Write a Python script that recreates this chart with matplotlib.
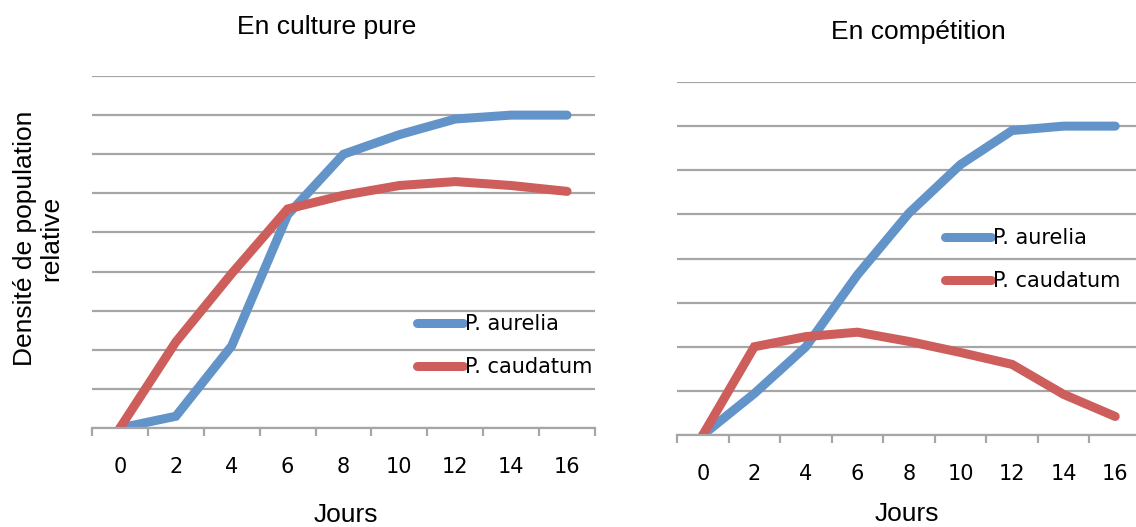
import matplotlib.pyplot as plt
from matplotlib.ticker import MultipleLocator

# jours (axe des abscisses, catégories)
jours = [0, 2, 4, 6, 8, 10, 12, 14, 16]

# densité relative, en culture pure
pure_aurelia = [0, 0.3, 2.1, 5.45, 7.0, 7.5, 7.9, 8.0, 8.0]
pure_caudatum = [0, 2.2, 3.95, 5.6, 5.95, 6.2, 6.3, 6.2, 6.05]

# densité relative, en compétition
comp_aurelia = [0, 0.94, 2.0, 3.63, 5.03, 6.13, 6.9, 7.0, 7.0]
comp_caudatum = [0, 2.0, 2.23, 2.33, 2.12, 1.87, 1.6, 0.92, 0.42]

BLUE = '#6394C9'
RED = '#CD5E5C'
GRID = '#A6A6A6'
W, H = 1136, 527


def _style_axes(ax, ymax):
    ax.set_xlim(-1, 17)
    ax.set_ylim(0, ymax)
    for side in ('top', 'right', 'left'):
        ax.spines[side].set_visible(False)
    ax.spines['bottom'].set_color(GRID)
    ax.spines['bottom'].set_linewidth(1.6)
    ax.set_xticks(jours)
    ax.xaxis.set_minor_locator(MultipleLocator(2, offset=1))
    ax.tick_params(axis='x', which='major', length=0, pad=21, labelsize=15)
    ax.tick_params(axis='x', which='minor', length=6, width=1.6, color=GRID)
    ax.yaxis.set_major_locator(MultipleLocator(1))
    ax.tick_params(axis='y', length=0, labelleft=False)
    ax.grid(axis='y', color=GRID, linewidth=1.6)
    ax.set_axisbelow(True)


def _plot_panel(ax, aurelia, caudatum, ymax, legend_xy):
    _style_axes(ax, ymax)
    kw = dict(linewidth=6.5, solid_capstyle='round', solid_joinstyle='miter')
    ax.plot(jours, aurelia, color=BLUE, label='P. aurelia', **kw)
    ax.plot(jours, caudatum, color=RED, label='P. caudatum', **kw)
    ax.legend(loc='upper left', bbox_to_anchor=(legend_xy[0] / W, 1 - legend_xy[1] / H),
              bbox_transform=ax.figure.transFigure, frameon=False, fontsize=15,
              handlelength=2.2, handletextpad=0.1, labelspacing=1.1,
              borderpad=0, borderaxespad=0)


fig = plt.figure(figsize=(W / 100, H / 100), dpi=100)

ax1 = fig.add_axes([92 / W, 1 - 428 / H, (595 - 92) / W, (428 - 76) / H])
_plot_panel(ax1, pure_aurelia, pure_caudatum, 9, (417, 314))

ax2 = fig.add_axes([677 / W, 1 - 435 / H, (1141 - 677) / W, (435 - 82) / H])
_plot_panel(ax2, comp_aurelia, comp_caudatum, 8, (945, 228))

sans = 'Liberation Sans'
fig.text(327 / W, 1 - 27 / H, 'En culture pure', ha='center', va='center', fontsize=19, family=sans)
fig.text(918 / W, 1 - 32 / H, 'En compétition', ha='center', va='center', fontsize=19, family=sans)
fig.text(346 / W, 1 - 515 / H, 'Jours', ha='center', va='center', fontsize=19, family=sans)
fig.text(907 / W, 1 - 514 / H, 'Jours', ha='center', va='center', fontsize=19, family=sans)
fig.text(38 / W, 1 - 238 / H, 'Densité de population\nrelative', ha='center', va='center',
         rotation=90, multialignment='center', fontsize=19, family=sans, linespacing=1.1)

fig.savefig('out.png', dpi=100)
